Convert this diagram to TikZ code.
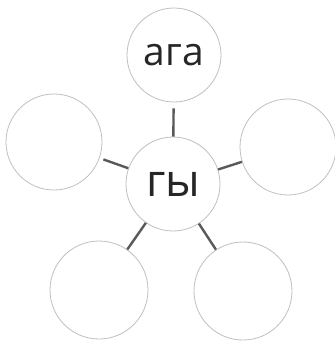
\documentclass[tikz,border=0pt]{standalone}
\usepackage{fontspec}
\setmainfont{Open Sans}
\usepackage{tikz}

\begin{document}
\begin{tikzpicture}[x=1pt, y=-1pt,
    bubble/.style={circle, draw=black!25, line width=0.8pt, inner sep=0pt, minimum size=94pt, text=black!85},
    spoke/.style={draw=black!65, line width=2.4pt}]
      \useasboundingbox (0,0) rectangle (335,346);
      \node[bubble, font=\fontsize{39}{40}\selectfont] (aga) at (174, 55) {ага};
      \node[bubble, font=\fontsize{45}{46}\selectfont] (gy) at (173, 184) {\raisebox{-2pt}{гы}};
      \node[bubble, minimum size=96pt] (lt) at (54, 142) {};
      \node[bubble, minimum size=96pt] (rt) at (288, 147) {};
      \node[bubble, minimum size=98pt] (lb) at (99, 290) {};
      \node[bubble, minimum size=98pt] (rb) at (243, 291) {};

      \draw[spoke, shorten <=6pt] (aga) -- (gy);
      \draw[spoke, shorten <=4pt] (lt)  -- (gy);
      \draw[spoke] (gy) -- (rt);
      \draw[spoke] (gy) -- (lb);
      \draw[spoke] (gy) -- (rb);
    \end{tikzpicture}
\end{document}
